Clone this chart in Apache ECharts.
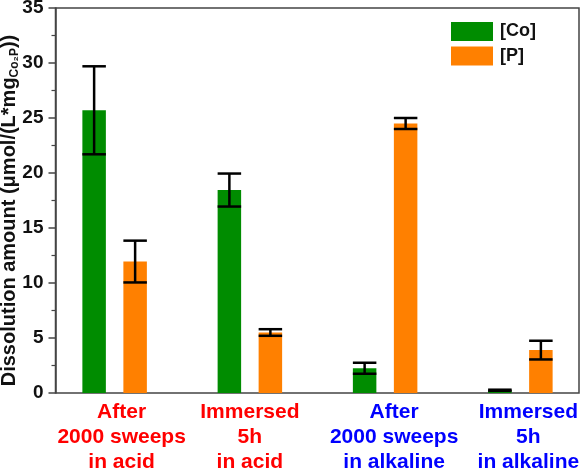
<!DOCTYPE html>
<html>
<head>
<meta charset="utf-8">
<script src="https://cdn.jsdelivr.net/npm/echarts@6/dist/echarts.min.js"></script>
<style>html,body{margin:0;padding:0;background:#fff}#c{width:583px;height:473px}</style>
</head>
<body>
<div id="c"></div>
<script>
const categories = ['After\n2000 sweeps\nin acid', 'Immersed\n5h\nin acid', 'After\n2000 sweeps\nin alkaline', 'Immersed\n5h\nin alkaline'];
const categoryColors = ['#FF0000', '#FF0000', '#0000FF', '#0000FF'];
const coValues = [25.7, 18.45, 2.25, 0.25];
const coErrors = [4.0, 1.5, 0.5, 0.05];
const pValues = [11.95, 5.5, 24.5, 3.9];
const pErrors = [1.9, 0.3, 0.5, 0.85];
const yTicks = [0, 5, 10, 15, 20, 25, 30, 35];

const BAR_W = 23.5;
const GAP_PX = 17.5;
const OFFSET = (BAR_W + GAP_PX) / 2;
const LABEL_SHIFT = [7, 0, 9, 8];

function errSeries(name, vals, errs, sign) {
  return {
    type: 'custom', name: name + ' err', xAxisIndex: 1, yAxisIndex: 1, z: 5,
    data: vals.map((v, i) => [i, v, errs[i]]),
    encode: { x: 0, y: 1 },
    renderItem: function (params, api) {
      const i = api.value(0), v = api.value(1), e = api.value(2);
      const hi = api.coord([i, v + e]);
      const lo = api.coord([i, v - e]);
      const x = hi[0] + sign * OFFSET;
      const hw = BAR_W / 2;
      const st = { stroke: '#000', lineWidth: 2.5, fill: null };
      return {
        type: 'group', children: [
          { type: 'line', shape: { x1: x, y1: hi[1], x2: x, y2: lo[1] }, style: st },
          { type: 'line', shape: { x1: x - hw, y1: hi[1], x2: x + hw, y2: hi[1] }, style: st },
          { type: 'line', shape: { x1: x - hw, y1: lo[1], x2: x + hw, y2: lo[1] }, style: st }
        ]
      };
    }
  };
}

const FONT = 'Liberation Sans, Arial, sans-serif';
const labelRich = {};
categoryColors.forEach((c, i) => {
  labelRich['c' + i] = {
    color: c, fontSize: 21, fontWeight: 'bold', lineHeight: 25, fontFamily: FONT,
    padding: [0, 0, 0, LABEL_SHIFT[i] * 2]
  };
});

const chart = echarts.init(document.getElementById('c'), null, { renderer: 'canvas' });
chart.setOption({
  animation: false,
  backgroundColor: '#fff',
  textStyle: { fontFamily: FONT },
  grid: [
    { left: 55.5, right: 4, top: 8, bottom: 80, outerBoundsMode: 'none', containLabel: false, show: true, borderColor: '#444', borderWidth: 1.5, backgroundColor: 'transparent' },
    { left: 47, width: 541, top: 8, bottom: 80, outerBoundsMode: 'none', containLabel: false }
  ],
  legend: {
    orient: 'vertical', left: 451, top: 22, padding: 0,
    itemWidth: 42, itemHeight: 19, itemGap: 5.5,
    icon: 'rect',
    data: ['[Co]', '[P]'],
    textStyle: { fontSize: 18, fontWeight: 'bold', color: '#111', fontFamily: FONT, padding: [0, 0, 0, 2] }
  },
  xAxis: [
    { type: 'value', gridIndex: 0, min: 0, max: 1, show: false },
    {
      type: 'category', gridIndex: 1, data: categories,
      axisLine: { show: false }, axisTick: { show: false },
      axisLabel: {
        interval: 0, margin: 7, fontSize: 21, fontWeight: 'bold', lineHeight: 25,
        fontFamily: FONT,
        formatter: function (v, i) {
          return v.split('\n').map(line => '{c' + i + '|' + line + '}').join('\n');
        },
        rich: labelRich
      }
    }
  ],
  yAxis: [
    {
      type: 'value', gridIndex: 0, min: yTicks[0], max: yTicks[yTicks.length - 1], interval: 5,
      axisLine: { show: true, lineStyle: { color: '#444', width: 1.5 } },
      axisTick: { show: true, length: 7, lineStyle: { color: '#444', width: 1.5 } },
      minorTick: { show: true, splitNumber: 2, length: 4, lineStyle: { color: '#444', width: 1.2 } },
      splitLine: { show: false },
      axisLabel: { fontSize: 19, fontWeight: 'bold', color: '#111', margin: 12, fontFamily: FONT },
      name: '{m|Dissolution amount (μmol/(L*mg}{s|Co₂P}{m|))}',
      nameLocation: 'middle', nameGap: 35, nameMoveOverlap: false,
      nameTextStyle: {
        fontFamily: FONT,
        padding: [0, 20, 0, 0],
        rich: {
          m: { fontSize: 20, fontWeight: 'bold', color: '#111', fontFamily: FONT, lineHeight: 22, verticalAlign: 'middle' },
          s: { fontSize: 12, fontWeight: 'bold', color: '#111', fontFamily: FONT, lineHeight: 22, verticalAlign: 'bottom', padding: [9, 0, 0, 0] }
        }
      }
    },
    { type: 'value', gridIndex: 1, min: 0, max: 35, show: false }
  ],
  series: [
    {
      type: 'bar', name: '[Co]', xAxisIndex: 1, yAxisIndex: 1, data: coValues,
      barWidth: BAR_W, barGap: (GAP_PX / BAR_W * 100).toFixed(1) + '%',
      itemStyle: { color: '#008C00' }
    },
    {
      type: 'bar', name: '[P]', xAxisIndex: 1, yAxisIndex: 1, data: pValues,
      barWidth: BAR_W, barGap: (GAP_PX / BAR_W * 100).toFixed(1) + '%',
      itemStyle: { color: '#FF8000' }
    },
    errSeries('[Co]', coValues, coErrors, -1),
    errSeries('[P]', pValues, pErrors, 1)
  ]
});
</script>
</body>
</html>
